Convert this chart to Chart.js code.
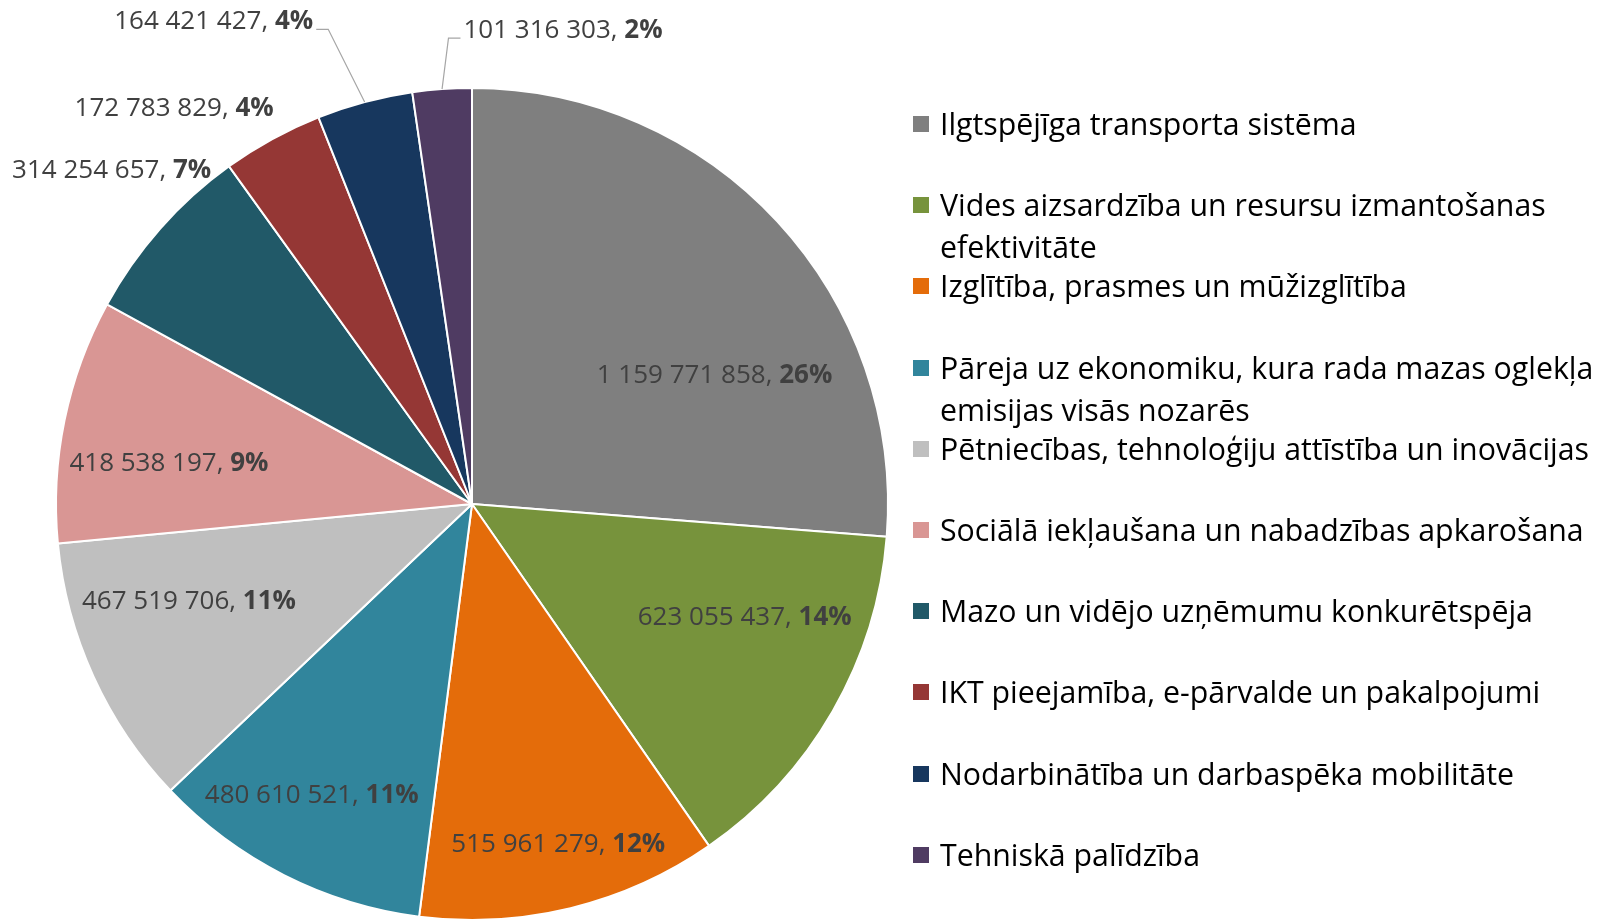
<!DOCTYPE html>
<html lang="lv">
<head>
<meta charset="utf-8">
<title>Finansējums pa tematiskajiem mērķiem</title>
<script src="https://cdn.jsdelivr.net/npm/chart.js@4/dist/chart.umd.min.js"></script>
<style>
  body { margin: 0; background: #fff; font-family: 'Open Sans', sans-serif; }
  #wrap { position: relative; width: 1614px; height: 921px; }
  #chartBox { position: absolute; left: 0; top: 0; width: 942px; height: 921px; }
  #legend { position: absolute; left: 913px; top: 103px; margin: 0; padding: 0; list-style: none; }
  #legend li { position: relative; height: 81.2px; padding-left: 27px; max-width: 698px;
    font-size: 30.3px; line-height: 42px; color: #000; }
  #legend li span { position: absolute; left: 0; top: 13px; width: 16px; height: 16px; }
</style>
</head>
<body>
<div id="wrap">
  <div id="chartBox"><canvas id="graficoPie"></canvas></div>
  <ul id="legend"></ul>
</div>
<script>
// Kategorijas (tematiskie mērķi)
const kategorijas = [
  'Ilgtspējīga transporta sistēma',
  'Vides aizsardzība un resursu izmantošanas efektivitāte',
  'Izglītība, prasmes un mūžizglītība',
  'Pāreja uz ekonomiku, kura rada mazas oglekļa emisijas visās nozarēs',
  'Pētniecības, tehnoloģiju attīstība un inovācijas',
  'Sociālā iekļaušana un nabadzības apkarošana',
  'Mazo un vidējo uzņēmumu konkurētspēja',
  'IKT pieejamība, e-pārvalde un pakalpojumi',
  'Nodarbinātība un darbaspēka mobilitāte',
  'Tehniskā palīdzība'
];

// Summas, EUR
const summas = [1159771858, 623055437, 515961279, 480610521, 467519706,
                418538197, 314254657, 172783829, 164421427, 101316303];

const krasas = ['#7F7F7F', '#77933C', '#E46C0A', '#31859C', '#BFBFBF',
                '#D99694', '#215968', '#953735', '#17375E', '#4F3B62'];

// Etiķešu novietojums: leņķa nobīde no sektora vidus (grādi), attālums (rādiusa daļa)
const etiketes = [
  { da: 14.8, f: 0.66 },
  { da: -7.3, f: 0.71 },
  { da: -0.5, f: 0.845 },
  { da: 1.9, f: 0.80 },
  { da: 5.4, f: 0.72 },
  { da: -4.0, f: 0.735 },
  { da: 1.3, f: 1.18 },
  { da: -8.3, f: 1.19 },
  { da: -13.2, f: 1.316, lineTo: 'right' },
  { da: 15.0, f: 1.16, lineTo: 'left' }
];

const kopa = summas.reduce((a, b) => a + b, 0);
const formatet = n => String(n).replace(/\B(?=(\d{3})+(?!\d))/g, ' ');

// Datu etiķetes ar vērtību un procentu (procents treknrakstā)
const etiketesPlugin = {
  id: 'etiketes',
  afterDatasetsDraw(chart) {
    const ctx = chart.ctx;
    const meta = chart.getDatasetMeta(0);
    const fonts = 26;
    ctx.save();
    ctx.textBaseline = 'middle';
    meta.data.forEach((arc, i) => {
      const p = arc.getProps(['x', 'y', 'startAngle', 'endAngle', 'outerRadius'], true);
      const cfg = etiketes[i];
      const vid = (p.startAngle + p.endAngle) / 2;
      const a = vid + cfg.da * Math.PI / 180;
      const lx = p.x + Math.cos(a) * p.outerRadius * cfg.f;
      const ly = p.y + Math.sin(a) * p.outerRadius * cfg.f;

      const t1 = formatet(summas[i]) + ', ';
      const t2 = Math.round(summas[i] / kopa * 100) + '%';
      ctx.font = fonts + "px 'Open Sans'";
      const w1 = ctx.measureText(t1).width;
      ctx.font = 'bold ' + fonts + "px 'Open Sans'";
      const w2 = ctx.measureText(t2).width;
      const x0 = lx - (w1 + w2) / 2;

      if (cfg.lineTo) {
        const ex = p.x + Math.cos(vid) * p.outerRadius;
        const ey = p.y + Math.sin(vid) * p.outerRadius;
        const edge = cfg.lineTo === 'right' ? x0 + w1 + w2 + 3 : x0 - 3;
        const s = cfg.lineTo === 'right' ? 1 : -1;
        ctx.strokeStyle = '#A6A6A6';
        ctx.lineWidth = 1.2;
        ctx.beginPath();
        ctx.moveTo(ex, ey);
        ctx.lineTo(edge + s * 12, ly + 8);
        ctx.lineTo(edge, ly + 8);
        ctx.stroke();
      }

      ctx.fillStyle = '#404040';
      ctx.textAlign = 'left';
      ctx.font = fonts + "px 'Open Sans'";
      ctx.fillText(t1, x0, ly);
      ctx.font = 'bold ' + fonts + "px 'Open Sans'";
      ctx.fillText(t2, x0 + w1, ly);
    });
    ctx.restore();
  }
};

const ctxPie = document.getElementById('graficoPie').getContext('2d');
const grafiks = new Chart(ctxPie, {
  type: 'pie',
  data: {
    labels: kategorijas,
    datasets: [{
      data: summas,
      backgroundColor: krasas,
      borderColor: '#FFFFFF',
      borderWidth: 2
    }]
  },
  options: {
    responsive: true,
    maintainAspectRatio: false,
    animation: false,
    layout: { padding: { top: 87, bottom: 0, left: 54, right: 52 } },
    plugins: {
      legend: { display: false },
      tooltip: { enabled: false }
    }
  },
  plugins: [etiketesPlugin]
});

// Leģenda
const legenda = document.getElementById('legend');
kategorijas.forEach((k, i) => {
  const li = document.createElement('li');
  const sq = document.createElement('span');
  sq.style.background = krasas[i];
  li.appendChild(sq);
  li.appendChild(document.createTextNode(k));
  legenda.appendChild(li);
});
</script>
</body>
</html>
